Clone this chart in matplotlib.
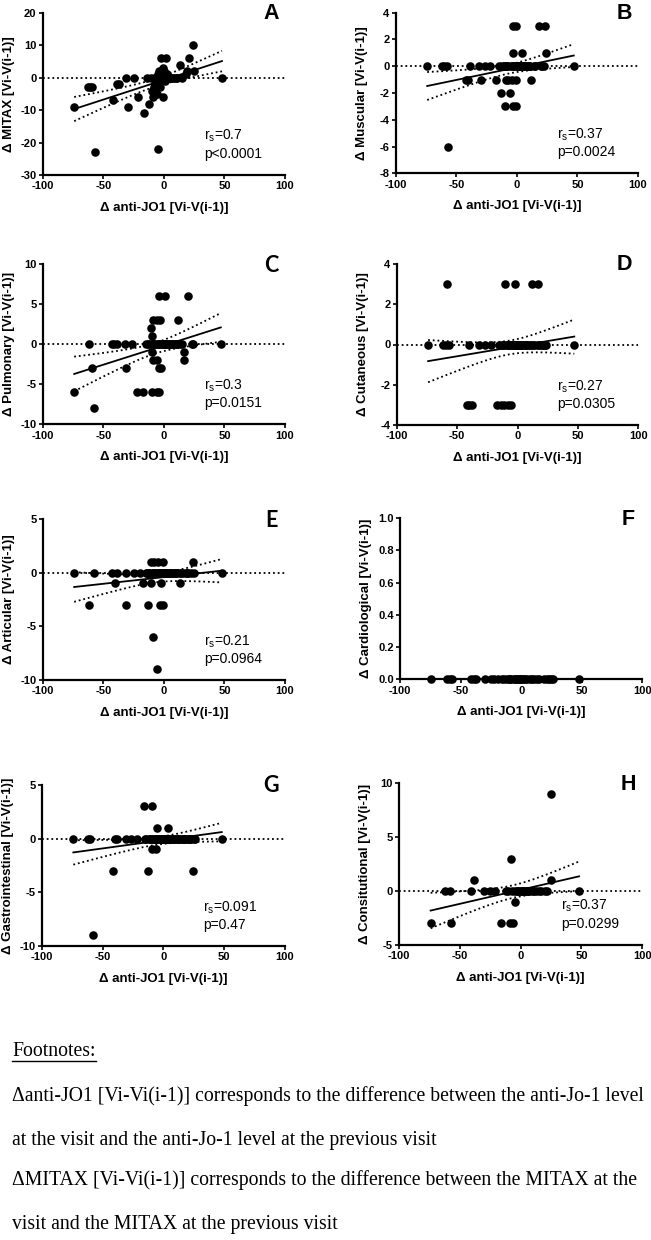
import numpy as np
import matplotlib
matplotlib.use("Agg")
import matplotlib.pyplot as plt

W, H = 651, 1240

x_label = "\u0394 anti-JO1 [Vi-V(i-1)]"

# A: MITAX
a_x = [-74, -63, -61, -59, -57, -42, -39, -37, -31, -30, -25, -21, -16, -14, -12, -10, -9, -8,
       -7, -7, -6, -6, -5, -5, -4, -4, -3, -3, -2, -2, -1, -1, 0, 0, 1, 2, 2, 3, 4, 6, 8, 10,
       11, 13, 15, 18, 19, 21, 24, 25, 48, -11, -8, -6, -4, -2, 0, 1, 3, 5, 7]
a_y = [-9, -3, -3, -3, -23, -7, -2, -2, 0, -9, 0, -6, -11, 0, -8, -4, -6, -3,
       -2, -4, -1, -5, -22, 1, 2, -2, 0, -3, 6, 1, -6, 3, 2, 0, -1, 6, 0, 1, 0, 0, 0, 0,
       0, 4, 0, 1, 2, 6, 10, 2, 0, 0, 0, 0, 0, 0, 0, 0, 0, 0, 0]

# B: Muscular
b_x = [-74, -62, -60, -58, -57, -42, -40, -39, -31, -30, -26, -22, -17, -15, -13, -12, -10, -10,
       -9, -8, -7, -6, -5, -4, -3, -3, -3, -2, -1, -1, -1, 0, 1, 2, 3, 4, 5, 6, 8, 10,
       12, 15, 18, 20, 21, 22, 23, 24, 47, -11, -9, -7, -4, -2, 0, 1, 3, 5, 7, 9, 11, 14]
b_y = [0, 0, 0, 0, -6, -1, -1, 0, 0, -1, 0, 0, -1, 0, -2, 0, -3, 0,
       -1, 0, -1, -2, 0, -1, -3, 3, 1, 0, -1, -3, 3, 0, 0, 0, 0, 1, 0, 0, 0, 0,
       -1, 0, 3, 0, 0, 0, 3, 1, 0, 0, 0, 0, 0, 0, 0, 0, 0, 0, 0, 0, 0, 0]

# C: Pulmonary
c_x = [-74, -62, -59, -58, -43, -41, -39, -32, -31, -26, -22, -17, -15, -13, -11, -10, -10, -10,
       -10, -9, -9, -8, -6, -6, -6, -5, -4, -4, -3, -3, -4, -2, -1, 1, 0, 2, 4, 6, 8, 10,
       12, 17, 17, 20, 23, 24, 47, -12, -9, -7, -5, -2, -1, 1, 3, 5, 7, 9, 11, 13, 15]
c_y = [-6, 0, -3, -8, 0, 0, 0, 0, -3, 0, -6, -6, 0, 0, 2, 1, 0, -1,
       -6, -2, 3, 0, 3, -6, -2, 0, -6, -3, 3, 0, 6, -3, 0, 6, 0, 0, 0, 0, 0, 0,
       3, -1, -2, 6, 0, 0, 0, 0, 0, 0, 0, 0, 0, 0, 0, 0, 0, 0, 0, 0, 0]

# D: Cutaneous
d_x = [-74, -62, -59, -58, -57, -42, -40, -40, -38, -32, -27, -22, -17, -15, -14, -12, -11, -10,
       -9, -8, -7, -5, -5, -3, -2, -1, 0, 1, 2, 4, 6, 8, 10, 12, 13, 17, 18, 20, 22, 24, 47,
       -13, -11, -9, -7, -6, -4, -3, -2, -1, 0, 1, 2, 3, 5, 7, 9, 11, 14, 16, 19, 21, 23]
d_y = [0, 0, 0, 3, 0, -3, -3, 0, -3, 0, 0, 0, -3, 0, -3, 0, -3, 3,
       0, -3, 0, -3, 0, 0, 3, 0, 0, 0, 0, 0, 0, 0, 0, 3, 0, 3, 0, 0, 0, 0, 0,
       0, 0, 0, 0, 0, 0, 0, 0, 0, 0, 0, 0, 0, 0, 0, 0, 0, 0, 0, 0, 0, 0]

# E: Articular
e_x = [-74, -62, -58, -43, -40, -39, -31, -31, -25, -20, -17, -15, -13, -12, -11, -11, -9, -8,
       -8, -6, -5, -5, -4, -3, -2, -1, -1, 0, 1, 2, 4, 6, 8, 10, 13, 13, 19, 22, 24, 48,
       -14, -12, -10, -9, -7, -6, -4, -3, -2, -1, 0, 1, 2, 3, 5, 7, 9, 11, 14, 16, 18, 20, 25]
e_y = [0, -3, 0, 0, -1, 0, 0, -3, 0, 0, -1, 0, -3, 0, 1, -1, -6, 1,
       0, -9, 1, 0, 0, -3, -1, 1, -3, 0, 0, 0, 0, 0, 0, 0, 0, -1, 0, 0, 1, 0,
       0, 0, 0, 0, 0, 0, 0, 0, 0, 0, 0, 0, 0, 0, 0, 0, 0, 0, 0, 0, 0, 0, 0]

# F: Cardiological (all zero)
f_x = [-74, -61, -59, -57, -41, -39, -37, -30, -25, -22, -19, -16, -14, -12, -10, -9, -8, -6,
       -5, -4, -3, -2, -1, 0, 1, 2, 3, 5, 7, 9, 11, 13, 15, 19, 21, 23, 25, 26, 48]
f_y = [0] * len(f_x)

# G: Gastrointestinal
g_x = [-74, -62, -60, -58, -41, -40, -38, -31, -27, -22, -16, -15, -13, -12, -10, -9, -9, -8,
       -6, -5, -5, -3, -1, 0, 2, 4, 5, 7, 9, 11, 13, 15, 18, 20, 22, 24, 48,
       -14, -11, -10, -8, -7, -6, -4, -3, -2, -1, 0, 1, 2, 3, 4, 6, 8, 10, 12, 14, 16, 17, 19,
       21, 23, 25, 26]
g_y = [0, 0, 0, -9, -3, 0, 0, 0, 0, 0, 3, 0, -3, 0, 0, 3, -1, 0,
       -1, 1, 0, 0, 0, 0, 0, 1, 0, 0, 0, 0, 0, 0, 0, 0, 0, -3, 0,
       0, 0, 0, 0, 0, 0, 0, 0, 0, 0, 0, 0, 0, 0, 0, 0, 0, 0, 0, 0, 0, 0, 0,
       0, 0, 0, 0]

# H: Constitutional
h_x = [-74, -62, -58, -57, -41, -38, -30, -25, -21, -16, -10, -9, -8, -6, -5, -5, -3, -1,
       1, 3, 5, 7, 9, 11, 13, 15, 17, 20, 22, 25, 25, 48, -12, -7, -2, 0, 2, 4, 6]
h_y = [-3, 0, 0, -3, 0, 1, 0, 0, 0, -3, 0, -3, 3, -3, -1, 0, 0, 0,
       0, 0, 0, 0, 0, 0, 0, 0, 0, 0, 0, 9, 1, 0, 0, 0, 0, 0, 0, 0, 0]

panels = [
    # letter, ylabel, x, y, ylim, yticks, r_s, p, rect(px: left, top, right, bottom), letter font
    ("A", "\u0394 MITAX [Vi-V(i-1)]", a_x, a_y, (-30, 20), [-30, -20, -10, 0, 10, 20],
     "0.7", "p<0.0001", (42.7, 12.7, 285, 175), "Liberation Sans"),
    ("B", "\u0394 Muscular [Vi-V(i-1)]", b_x, b_y, (-8, 4), [-8, -6, -4, -2, 0, 2, 4],
     "0.37", "p=0.0024", (395.7, 12.7, 638, 173.3), "Liberation Sans"),
    ("C", "\u0394 Pulmonary [Vi-V(i-1)]", c_x, c_y, (-10, 10), [-10, -5, 0, 5, 10],
     "0.3", "p=0.0151", (42.7, 264, 285, 424.3), "Lato"),
    ("D", "\u0394 Cutaneous [Vi-V(i-1)]", d_x, d_y, (-4, 4), [-4, -2, 0, 2, 4],
     "0.27", "p=0.0305", (396.7, 264, 638.3, 425), "Liberation Sans"),
    ("E", "\u0394 Articular [Vi-V(i-1)]", e_x, e_y, (-10, 5), [-10, -5, 0, 5],
     "0.21", "p=0.0964", (42.7, 519, 285, 680), "Lato"),
    ("F", "\u0394 Cardiological [Vi-V(i-1)]", f_x, f_y, (0, 1), [0, 0.2, 0.4, 0.6, 0.8, 1.0],
     None, None, (400, 518.3, 642.3, 679.3), "Liberation Sans"),
    ("G", "\u0394 Gastrointestinal [Vi-V(i-1)]", g_x, g_y, (-10, 5), [-10, -5, 0, 5],
     "0.091", "p=0.47", (41.7, 785, 285, 946), "Lato"),
    ("H", "\u0394 Consitutional [Vi-V(i-1)]", h_x, h_y, (-5, 10), [-5, 0, 5, 10],
     "0.37", "p=0.0299", (399, 783.3, 642.3, 945), "Liberation Sans"),
]

footnotes = [
    "\u0394anti-JO1 [Vi-Vi(i-1)] corresponds to the difference between the anti-Jo-1 level",
    "at the visit and the anti-Jo-1 level at the previous visit",
    "\u0394MITAX [Vi-Vi(i-1)] corresponds to the difference between the MITAX at the",
    "visit and the MITAX at the previous visit",
]


def fit_band(x, y):
    x = np.asarray(x, float)
    y = np.asarray(y, float)
    n = len(x)
    slope, icpt = np.polyfit(x, y, 1)
    xs = np.linspace(x.min(), x.max(), 120)
    yhat = slope * xs + icpt
    resid = y - (slope * x + icpt)
    s = np.sqrt((resid ** 2).sum() / (n - 2))
    sxx = ((x - x.mean()) ** 2).sum()
    t = 1.96 + 2.4 / (n - 2)
    half = t * s * np.sqrt(1 / n + (xs - x.mean()) ** 2 / sxx)
    return xs, yhat, yhat - half, yhat + half


plt.rcParams['font.family'] = ['Liberation Sans', 'DejaVu Sans']
plt.rcParams['mathtext.fontset'] = 'custom'
plt.rcParams['mathtext.rm'] = 'Liberation Sans'
plt.rcParams['axes.unicode_minus'] = False

fig = plt.figure(figsize=(W / 100, H / 100), dpi=100)

dots = (0, (1, 1.6))

for letter, ylab, xs, ys, ylim, yticks, rs, p, rect, lfont in panels:
    l, t, r, b = rect
    ax = fig.add_axes([l / W, 1 - b / H, (r - l) / W, (b - t) / H])
    ax.set_xlim(-100, 100)
    ax.set_ylim(*ylim)
    ax.set_xticks([-100, -50, 0, 50, 100])
    ax.set_yticks(yticks)
    if letter == "F":
        ax.set_yticklabels([f"{v:.1f}" for v in yticks])
    for side in ("top", "right"):
        ax.spines[side].set_visible(False)
    for side in ("left", "bottom"):
        ax.spines[side].set_linewidth(1.6)
    ax.tick_params(direction="out", length=3, width=1.2, labelsize=8, pad=1.5)
    for lab in ax.get_xticklabels() + ax.get_yticklabels():
        lab.set_fontweight("bold")

    ax.axhline(0, color="black", lw=1.3, ls=dots, zorder=1)
    ax.scatter(xs, ys, s=38, color="black", zorder=3, clip_on=False, linewidths=0)

    if rs is not None:
        fx, fy, lo, hi = fit_band(xs, ys)
        ax.plot(fx, fy, color="black", lw=1.3, zorder=2)
        ax.plot(fx, lo, color="black", lw=1.3, ls=dots, zorder=2)
        ax.plot(fx, hi, color="black", lw=1.3, ls=dots, zorder=2)
        ax.text(0.665, 0.24, r"$\mathregular{r_s}$=" + rs, transform=ax.transAxes,
                fontsize=10, va="center", ha="left")
        ax.text(0.665, 0.13, p, transform=ax.transAxes,
                fontsize=10, va="center", ha="left")

    ax.set_xlabel(x_label, fontsize=9.5, fontweight="bold")
    ax.xaxis.label.set_va("center")
    ax.xaxis.set_label_coords(0.5, -33 / (b - t))
    ax.set_ylabel(ylab, fontsize=9.5, fontweight="bold")
    ax.yaxis.label.set_va("center")
    ax.yaxis.set_label_coords(-34 / (r - l), 0.5)

    fig.text((r - 14) / W, 1 - (t + 1) / H, letter, fontsize=15.5, fontweight="bold",
             family=[lfont, "DejaVu Sans"], ha="center", va="center")

serif = ["Liberation Serif", "DejaVu Serif"]
fn = fig.text(12 / W, 1 - 1052 / H, "Footnotes:", fontsize=14.2, family=serif,
              ha="left", va="center")
line_y = [1096, 1140, 1180, 1224]
for txt, yy in zip(footnotes, line_y):
    fig.text(12 / W, 1 - yy / H, txt, fontsize=14.2, family=serif, ha="left", va="center")

fig.canvas.draw()
bb = fn.get_window_extent()
uy = (bb.y0 + 1) / H
fig.add_artist(plt.Line2D([bb.x0 / W, bb.x1 / W], [uy, uy], color="black", lw=1.0))

fig.savefig("out.png", dpi=100)
